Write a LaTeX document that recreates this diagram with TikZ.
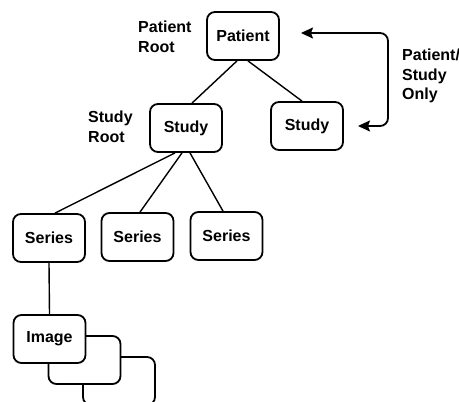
\documentclass[tikz,border=0pt]{standalone}
\usepackage{fontspec}
\setmainfont{Liberation Sans}
\usetikzlibrary{calc,arrows.meta}
\begin{document}
\begin{tikzpicture}[x=1pt,y=-1pt,
  box/.style={draw, fill=white, line width=1.8pt, rounded corners=8pt,
    minimum width=72pt, minimum height=48pt, inner sep=0pt,
    font=\fontsize{16}{18}\selectfont\bfseries},
  lbl/.style={align=left, anchor=north west, inner sep=0pt,
    font=\fontsize{16}{19.5}\selectfont\bfseries},
  link/.style={line width=1.4pt},
  loop/.style={line width=1.8pt, rounded corners=8pt,
    {Stealth[length=12pt,width=11pt,inset=2pt]}-{Stealth[length=12pt,width=11pt,inset=2pt]}}]
  \useasboundingbox[fill=white] (0,0) rectangle (459,402);

  % hierarchy nodes
  \node[box] (patient) at (243,36) {Patient};
  \node[box] (studyA) at (186,128) {Study};
  \node[box] (studyB) at (307,126) {Study};
  \node[box] (seriesA) at (49,238) {Series};
  \node[box] (seriesB) at (137.5,237) {Series};
  \node[box] (seriesC) at (226.5,236) {Series};

  % stacked image records, back to front
  \node[box] (imageC) at (119,381) {};
  \node[box] (imageB) at (84.5,360) {};
  \node[box] (imageA) at (49.5,339) {Image};

  % side labels
  \node[lbl] (patRoot) at (138,21) {Patient\\Root};
  \node[lbl] (stuRoot) at (88,111) {Study\\Root};
  \node[lbl] (psOnly) at (402,49) {Patient/\\Study\\Only};

  % tree links
  \draw[link] ($(patient.south)+(-6,0)$) -- ($(studyA.north)+(6,0)$);
  \draw[link] ($(patient.south)+(5,0)$) -- ($(studyB.north)+(-5,0)$);
  \draw[link] ($(studyA.south)+(-11,0)$) -- ($(seriesA.north)+(6,0)$);
  \draw[link] ($(studyA.south)+(-4,0)$) -- ($(seriesB.north)+(2.5,0)$);
  \draw[link] ($(studyA.south)+(4,0)$) -- ($(seriesC.north)+(-3.5,0)$);
  \draw[link] (seriesA.south) -- (imageA.north);

  % double-headed bracket arrow
  \coordinate (tipTop) at (301,33);
  \coordinate (tipBot) at (358,126);
  \draw[loop] (tipTop) -- (388,33) -- (388,126) -- (tipBot);
\end{tikzpicture}
\end{document}
